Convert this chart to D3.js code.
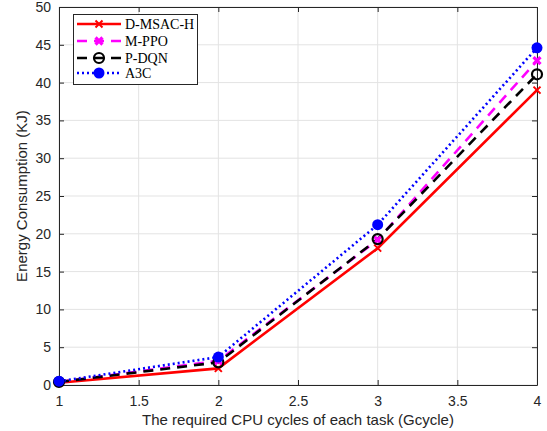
<!DOCTYPE html>
<html>
<head>
<meta charset="utf-8">
<script src="https://cdn.jsdelivr.net/npm/d3@7"></script>
<style>
  html, body { margin: 0; padding: 0; background: #fff; }
  svg { display: block; }
</style>
</head>
<body>
<svg id="chart" width="547" height="431"></svg>
<script>
// CPU cycles per task (Gcycle)
const cycles = [1, 2, 3, 4];
// Energy consumption (KJ) for each method
const dmsach = [0.3, 2.2, 18.1, 39.0];
const mppo   = [0.4, 3.2, 19.2, 42.9];
const pdqn   = [0.4, 3.0, 19.3, 41.1];
const a3c    = [0.5, 3.7, 21.2, 44.6];
const seriesNames = ["D-MSAC-H", "M-PPO", "P-DQN", "A3C"];
const xTicks = [1, 1.5, 2, 2.5, 3, 3.5, 4];
const yTicks = [0, 5, 10, 15, 20, 25, 30, 35, 40, 45, 50];

const styles = [
  { values: dmsach, color: "#ff0000", dash: null, marker: "x" },
  { values: mppo, color: "#ff00ff", dash: "10,7", marker: "xbold" },
  { values: pdqn, color: "#000000", dash: "10,7", marker: "circle" },
  { values: a3c, color: "#0000ff", dash: "2,3", marker: "dot" }
];

const svg = d3.select("#chart");
const plotL = 59, plotR = 537, plotT = 7, plotB = 385;
const x = d3.scaleLinear().domain([1, 4]).range([plotL, plotR]);
const y = d3.scaleLinear().domain([0, 50]).range([plotB, plotT]);
const axisColor = "#262626";
const font = "'Liberation Sans', Arial, Helvetica, sans-serif";

// grid
const grid = svg.append("g");
grid.selectAll(".gx").data(xTicks).join("line")
  .attr("x1", d => x(d)).attr("x2", d => x(d))
  .attr("y1", plotT).attr("y2", plotB)
  .attr("stroke", "#e3e3e3").attr("stroke-width", 1);
grid.selectAll(".gy").data(yTicks).join("line")
  .attr("x1", plotL).attr("x2", plotR)
  .attr("y1", d => y(d)).attr("y2", d => y(d))
  .attr("stroke", "#e3e3e3").attr("stroke-width", 1);

// axes
const xAxis = d3.axisBottom(x).tickValues(xTicks).tickSizeInner(-5).tickSizeOuter(0).tickPadding(11)
  .tickFormat(d3.format("~g"));
const yAxis = d3.axisLeft(y).tickValues(yTicks).tickSizeInner(-5).tickSizeOuter(0).tickPadding(8);
const gx = svg.append("g").attr("transform", `translate(0,${plotB})`).call(xAxis);
const gy = svg.append("g").attr("transform", `translate(${plotL},0)`).call(yAxis);
const gxTop = svg.append("g").attr("transform", `translate(0,${plotT})`)
  .call(d3.axisTop(x).tickValues(xTicks).tickSizeInner(-5).tickSizeOuter(0).tickFormat(""));
const gyRight = svg.append("g").attr("transform", `translate(${plotR},0)`)
  .call(d3.axisRight(y).tickValues(yTicks).tickSizeInner(-5).tickSizeOuter(0).tickFormat(""));
[gx, gy, gxTop, gyRight].forEach(g => {
  g.select(".domain").attr("stroke", axisColor).attr("stroke-width", 1);
  g.selectAll(".tick line").attr("stroke", axisColor);
  g.selectAll(".tick text").attr("fill", axisColor).style("font-family", font).style("font-size", "14px");
});

// axis titles
svg.append("text").attr("x", (plotL + plotR) / 2).attr("y", 425)
  .attr("text-anchor", "middle").attr("fill", axisColor)
  .style("font-family", font).style("font-size", "15px")
  .text("The required CPU cycles of each task (Gcycle)");
svg.append("text").attr("transform", `translate(27,${(plotT + plotB) / 2}) rotate(-90)`)
  .attr("text-anchor", "middle").attr("fill", axisColor)
  .style("font-family", font).style("font-size", "15px")
  .text("Energy Consumption (KJ)");

function drawMarker(g, type, color, cx, cy) {
  if (type === "x" || type === "xbold") {
    const s = 3.5;
    const w = type === "x" ? 2 : 3.2;
    g.append("path")
      .attr("d", `M${cx - s},${cy - s}L${cx + s},${cy + s}M${cx - s},${cy + s}L${cx + s},${cy - s}`)
      .attr("stroke", color).attr("stroke-width", w).attr("fill", "none");
  } else if (type === "circle") {
    g.append("circle").attr("cx", cx).attr("cy", cy).attr("r", 5)
      .attr("stroke", color).attr("stroke-width", 2.2).attr("fill", "none");
  } else if (type === "dot") {
    g.append("circle").attr("cx", cx).attr("cy", cy).attr("r", 5.5)
      .attr("fill", color);
  }
}

// series
const line = d3.line().x((d, i) => x(cycles[i])).y(d => y(d));
const plot = svg.append("g");
styles.forEach(s => {
  plot.append("path").datum(s.values)
    .attr("d", line)
    .attr("fill", "none")
    .attr("stroke", s.color)
    .attr("stroke-width", 2.6)
    .attr("stroke-dasharray", s.dash);
});
styles.forEach(s => {
  const mg = plot.append("g");
  s.values.forEach((v, i) => drawMarker(mg, s.marker, s.color, x(cycles[i]), y(v)));
});

// legend
const lg = svg.append("g");
lg.append("rect").attr("x", 73.5).attr("y", 14.5).attr("width", 124).attr("height", 70)
  .attr("fill", "#fff").attr("stroke", axisColor).attr("stroke-width", 1);
const rowY = [24, 41, 58, 73];
styles.forEach((s, i) => {
  lg.append("line").attr("x1", 77).attr("x2", 121).attr("y1", rowY[i]).attr("y2", rowY[i])
    .attr("stroke", s.color).attr("stroke-width", 2.6).attr("stroke-dasharray", s.dash);
  drawMarker(lg, s.marker, s.color, 99, rowY[i]);
  lg.append("text").attr("x", 125).attr("y", rowY[i] + 5)
    .attr("fill", "#000")
    .style("font-family", "'Liberation Serif', 'Times New Roman', serif").style("font-size", "14px")
    .text(seriesNames[i]);
});
</script>
</body>
</html>
